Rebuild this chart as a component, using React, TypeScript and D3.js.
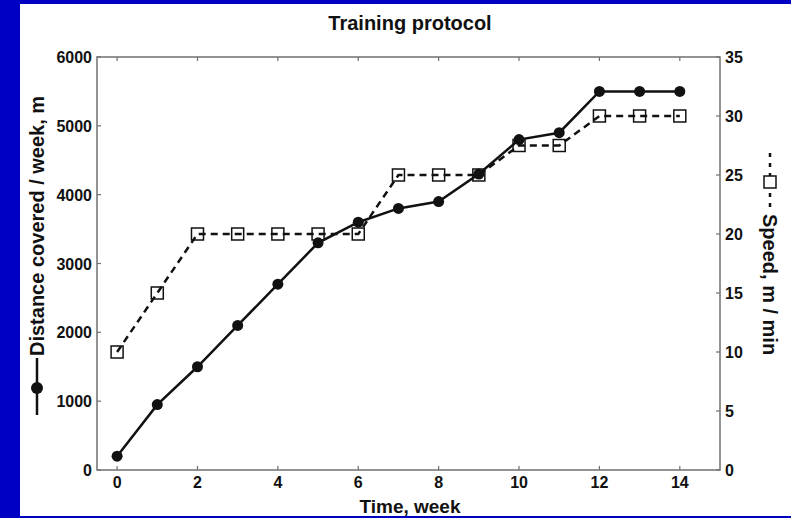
import { useEffect, useRef } from "react";
import * as d3 from "d3";

const weeks = [0, 1, 2, 3, 4, 5, 6, 7, 8, 9, 10, 11, 12, 13, 14];
const distance = [200, 950, 1500, 2100, 2700, 3300, 3600, 3800, 3900, 4300, 4800, 4900, 5500, 5500, 5500];
const speed = [10, 15, 20, 20, 20, 20, 20, 25, 25, 25, 27.5, 27.5, 30, 30, 30];
const xTicks = [0, 2, 4, 6, 8, 10, 12, 14];
const distTicks = [0, 1000, 2000, 3000, 4000, 5000, 6000];
const speedTicks = [0, 5, 10, 15, 20, 25, 30, 35];

const W = 791;
const H = 518;
const font = "'Liberation Sans', Arial, sans-serif";

const App = () => {
  const svgRef = useRef<SVGSVGElement>(null);

  useEffect(() => {
    if (!svgRef.current) return;
    const svg = d3.select(svgRef.current);
    svg.selectAll("*").remove();

    const left = 97, right = 720, top = 57, bottom = 470;
    const axisColor = "#707070";

    svg.append("rect").attr("width", W).attr("height", H).attr("fill", "#0000c4");
    svg.append("rect").attr("x", 20).attr("y", 4).attr("width", W - 20).attr("height", H - 6).attr("fill", "#fff");

    const x = d3.scaleLinear().domain([-0.5, 15]).range([left, right]);
    const yL = d3.scaleLinear().domain([0, 6000]).range([bottom, top]);
    const yR = d3.scaleLinear().domain([0, 35]).range([bottom, top]);

    // frame
    svg.append("rect")
      .attr("x", left).attr("y", top)
      .attr("width", right - left).attr("height", bottom - top)
      .attr("fill", "none").attr("stroke", axisColor).attr("stroke-width", 1.5);

    const tl = 4;
    const g = svg.append("g").attr("stroke", axisColor).attr("stroke-width", 1.2);
    xTicks.forEach((t) => {
      g.append("line").attr("x1", x(t)).attr("x2", x(t)).attr("y1", bottom).attr("y2", bottom - tl);
      g.append("line").attr("x1", x(t)).attr("x2", x(t)).attr("y1", top).attr("y2", top + tl);
    });
    distTicks.forEach((t) => {
      g.append("line").attr("x1", left).attr("x2", left + tl).attr("y1", yL(t)).attr("y2", yL(t));
    });
    speedTicks.forEach((t) => {
      g.append("line").attr("x1", right).attr("x2", right - tl).attr("y1", yR(t)).attr("y2", yR(t));
    });

    const labels = svg.append("g")
      .attr("font-family", font).attr("font-weight", "bold").attr("font-size", 16).attr("fill", "#111");
    xTicks.forEach((t) => {
      labels.append("text").attr("x", x(t)).attr("y", 488).attr("text-anchor", "middle").text(t);
    });
    distTicks.forEach((t) => {
      labels.append("text").attr("x", left - 5).attr("y", yL(t) + 6).attr("text-anchor", "end").text(t);
    });
    speedTicks.forEach((t) => {
      labels.append("text").attr("x", right + 5).attr("y", yR(t) + 6).attr("text-anchor", "start").text(t);
    });

    // title and axis titles
    svg.append("text")
      .attr("x", 410).attr("y", 30).attr("text-anchor", "middle")
      .attr("font-family", font).attr("font-weight", "bold").attr("font-size", 20).attr("fill", "#111")
      .text("Training protocol");
    svg.append("text")
      .attr("x", 410).attr("y", 513).attr("text-anchor", "middle")
      .attr("font-family", font).attr("font-weight", "bold").attr("font-size", 19).attr("fill", "#111")
      .text("Time, week");

    // left label with legend glyph
    const gl = svg.append("g").attr("transform", "translate(44,0) rotate(-90)");
    gl.append("line").attr("x1", -415).attr("x2", -358).attr("y1", -7).attr("y2", -7)
      .attr("stroke", "#111").attr("stroke-width", 2.5);
    gl.append("circle").attr("cx", -388).attr("cy", -7).attr("r", 6).attr("fill", "#111");
    gl.append("text").attr("x", -356).attr("y", 0)
      .attr("font-family", font).attr("font-weight", "bold").attr("font-size", 20).attr("fill", "#111")
      .text("Distance covered / week, m");

    // right label with legend glyph
    const gr = svg.append("g").attr("transform", "translate(763,0) rotate(90)");
    gr.append("line").attr("x1", 153).attr("x2", 210).attr("y1", -7).attr("y2", -7)
      .attr("stroke", "#111").attr("stroke-width", 2.5).attr("stroke-dasharray", "4,6");
    gr.append("rect").attr("x", 176).attr("y", -13).attr("width", 12).attr("height", 12)
      .attr("fill", "#fff").attr("stroke", "#111").attr("stroke-width", 1.5);
    gr.append("text").attr("x", 214).attr("y", 0)
      .attr("font-family", font).attr("font-weight", "bold").attr("font-size", 20).attr("fill", "#111")
      .text("Speed, m / min");

    // speed series
    const lineS = d3.line<number>().x((_, i) => x(weeks[i])).y((d) => yR(d));
    svg.append("path").attr("d", lineS(speed)).attr("fill", "none")
      .attr("stroke", "#111").attr("stroke-width", 2.5).attr("stroke-dasharray", "7,5");
    svg.append("g").selectAll("rect").data(speed).enter().append("rect")
      .attr("x", (_, i) => x(weeks[i]) - 6).attr("y", (d) => yR(d) - 6)
      .attr("width", 12).attr("height", 12)
      .attr("fill", "none").attr("stroke", "#111").attr("stroke-width", 1.5);

    // distance series
    const lineD = d3.line<number>().x((_, i) => x(weeks[i])).y((d) => yL(d));
    svg.append("path").attr("d", lineD(distance)).attr("fill", "none")
      .attr("stroke", "#111").attr("stroke-width", 2.5);
    svg.append("g").selectAll("circle").data(distance).enter().append("circle")
      .attr("cx", (_, i) => x(weeks[i])).attr("cy", (d) => yL(d)).attr("r", 5.5).attr("fill", "#111");
  }, []);

  return (
    <svg ref={svgRef} width={W} height={H}
      style={{ position: "absolute", left: 0, top: 0, display: "block" }} />
  );
};

export default App;
